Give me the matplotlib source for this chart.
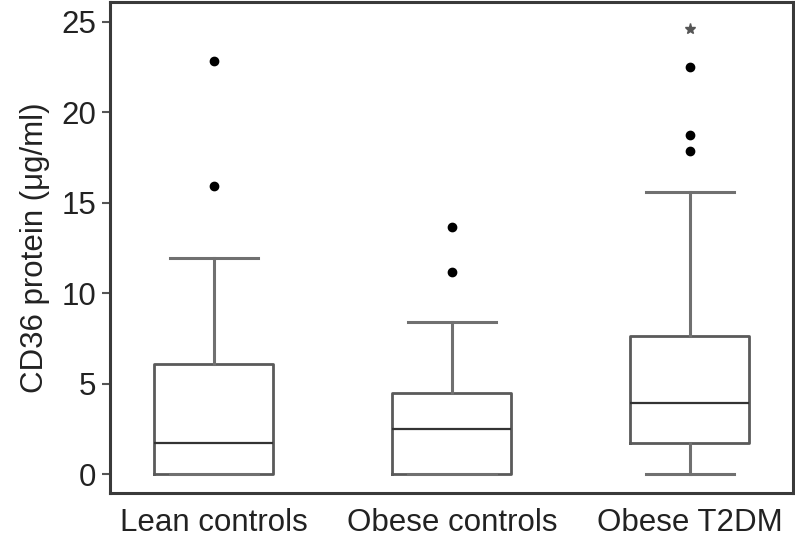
import matplotlib
matplotlib.use("Agg")
import matplotlib.pyplot as plt

plt.rcParams['font.family'] = ['Liberation Sans', 'DejaVu Sans']

categories = ["Lean controls", "Obese controls", "Obese T2DM"]
q1 = [0.0, 0.0, 1.7]
median = [1.72, 2.5, 3.93]
q3 = [6.1, 4.48, 7.63]
whisker_low = [0.0, 0.0, 0.0]
whisker_high = [11.97, 8.4, 15.62]
outliers = [[15.94, 22.86], [11.17, 13.66], [17.88, 18.72, 22.5]]
extremes = [[], [], [24.6]]
y_ticks = [0, 5, 10, 15, 20, 25]

fig = plt.figure(figsize=(7.95, 5.43), dpi=100)
ax = fig.add_axes([0.1384, 0.0921, 0.8591, 0.9042])

stats = []
for i, c in enumerate(categories):
    stats.append(dict(label=c, med=median[i], q1=q1[i], q3=q3[i],
                      whislo=whisker_low[i], whishi=whisker_high[i], fliers=outliers[i]))

box_c = '#5a5a5a'
ax.bxp(stats, positions=[1, 2, 3], widths=0.5, showfliers=True,
       boxprops=dict(color=box_c, linewidth=2.0),
       medianprops=dict(color='#333333', linewidth=1.6),
       whiskerprops=dict(color='#707070', linewidth=2.2),
       capprops=dict(color='#707070', linewidth=2.2),
       capwidths=0.37,
       flierprops=dict(marker='o', markerfacecolor='black', markeredgecolor='black', markersize=6))

for i, vals in enumerate(extremes):
    if vals:
        ax.plot([i + 1] * len(vals), vals, linestyle='none', marker='*',
                color='#555555', markersize=8)

ax.set_xlim(0.563, 3.435)
ax.set_ylim(-1.05, 26.1)
ax.set_yticks(y_ticks)
ax.set_yticklabels([str(t) for t in y_ticks])
ax.set_xticks([1, 2, 3])
ax.set_xticklabels(categories)
ax.tick_params(axis='y', length=6, width=1.5, color='#555555', labelsize=22.5, pad=4, labelcolor='#222222')
ax.tick_params(axis='x', length=0, labelsize=22.5, pad=11, labelcolor='#222222')
ax.set_ylabel("CD36 protein (μg/ml)", fontsize=22.5, labelpad=8, color='#222222')
for s in ax.spines.values():
    s.set_color('#3a3a3a')
    s.set_linewidth(2.2)

fig.savefig("out.png", dpi=100)
